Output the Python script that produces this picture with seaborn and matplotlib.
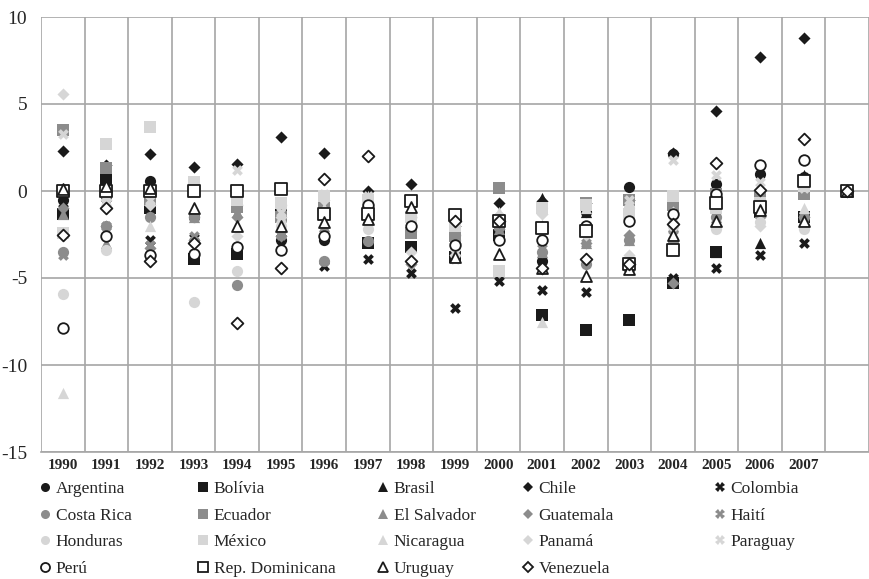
import matplotlib
matplotlib.use("Agg")
import matplotlib.pyplot as plt
from matplotlib.lines import Line2D
import seaborn as sns
import pandas as pd
import numpy as np

years = list(range(1990, 2009))
tick_labels = [str(y) for y in range(1990, 2008)] + [""]

argentina   = [-0.5, -0.3, 0.6, -1.5, -0.8, -2.8, -2.8, -1.0, -1.5, -2.5, -2.0, -4.0, -1.2, 0.25, 2.1, 0.4, 1.0, 0.8, 0]
bolivia     = [-1.3, 0.7, -1.0, -3.9, -3.6, -1.3, -0.9, -3.0, -3.2, -3.8, -2.5, -7.1, -8.0, -7.4, -5.3, -3.5, -1.2, -1.5, 0]
brasil      = [-1.0, 1.5, -0.5, 0.6, -0.8, -2.0, -1.8, 0.0, -1.2, -3.8, -1.4, -0.4, -1.2, -0.5, -0.8, -3.5, -3.0, 0.9, 0]
chile       = [2.3, 1.5, 2.1, 1.4, 1.55, 3.1, 2.2, 0.0, 0.4, -2.0, -0.7, -0.6, -0.7, -0.5, 2.2, 4.6, 7.7, 8.8, 0]
colombia    = [-0.7, -0.4, -2.8, -2.7, -0.9, -2.7, -4.3, -3.9, -4.7, -6.7, -5.2, -5.7, -5.8, -4.4, -5.0, -4.4, -3.7, -3.0, 0]
costa_rica  = [-3.5, -2.0, -1.5, -1.5, -5.4, -0.8, -4.0, -2.9, -2.3, -2.8, -2.0, -3.5, -4.2, -2.8, -2.9, -1.5, -0.5, -1.5, 0]
ecuador     = [3.5, 1.3, -0.5, 0.3, -0.9, -1.5, -1.0, -1.2, -2.4, -2.6, 0.2, -1.0, -0.7, -0.5, -0.8, -0.2, -0.4, -0.15, 0]
el_salvador = [-1.3, -3.0, -3.5, -1.5, -1.2, -2.3, -2.0, -1.5, -2.0, -3.0, -2.2, -3.5, -3.0, -2.8, -2.0, -1.5, -1.0, -1.6, 0]
guatemala   = [-1.0, -2.0, -3.3, -2.8, -1.5, -2.6, -1.5, -1.4, -4.2, -3.0, -2.2, -2.0, -3.0, -2.5, -5.3, -2.0, -1.5, -1.5, 0]
haiti       = [-3.7, -2.0, -3.1, -2.6, -1.0, -2.5, -0.5, -1.0, -2.0, -2.2, -2.0, -3.0, -3.0, -0.5, -2.5, -1.0, -0.3, -1.4, 0]
honduras    = [-5.9, -3.4, -3.7, -6.4, -4.6, -2.0, -2.6, -2.2, -1.5, -3.3, -1.5, -1.0, -2.0, -1.0, -2.0, -2.2, -1.8, -2.2, 0]
mexico      = [-2.4, 2.7, 3.7, 0.5, -0.5, -0.7, -0.3, -0.5, -1.5, -2.0, -4.6, -1.0, -0.8, -1.3, -0.3, -1.0, -0.7, 0.3, 0]
nicaragua   = [-11.6, -0.5, -2.0, -1.0, -2.0, -1.5, -1.0, -0.3, -1.6, -1.7, -1.2, -7.5, -1.0, -1.0, -1.5, -1.8, -0.5, -1.0, 0]
panama      = [5.6, -0.5, -0.8, 0.2, -2.6, -1.5, -0.5, -0.8, -3.5, -3.7, -1.5, -1.3, -2.5, -3.7, -1.2, -2.0, -2.0, -2.0, 0]
paraguay    = [3.3, -0.2, -0.5, 0.6, 1.2, -1.2, -0.2, -0.3, -1.8, -3.9, -1.5, -1.0, -2.2, -0.5, 1.8, 0.9, 0.5, 0.2, 0]
peru        = [-7.9, -2.6, -3.7, -3.6, -3.2, -3.4, -2.6, -0.8, -2.0, -3.1, -2.8, -2.8, -2.0, -1.7, -1.3, -0.2, 1.5, 1.8, 0]
rep_dom     = [0.0, 0.0, 0.0, 0.0, 0.0, 0.1, -1.3, -1.3, -0.6, -1.4, -1.7, -2.1, -2.3, -4.2, -3.4, -0.7, -0.9, 0.6, 0]
uruguay     = [0.1, 0.3, 0.2, -1.0, -2.0, -2.0, -1.8, -1.6, -0.9, -3.8, -3.6, -4.4, -4.9, -4.5, -2.5, -1.7, -1.1, -1.7, 0]
venezuela   = [-2.5, -1.0, -4.0, -3.0, -7.6, -4.4, 0.7, 2.0, -4.0, -1.7, -1.7, -4.4, -3.9, -4.2, -1.9, 1.6, 0.05, 3.0, 0]

countries = ["Argentina", "Bolívia", "Brasil", "Chile", "Colombia",
             "Costa Rica", "Ecuador", "El Salvador", "Guatemala", "Haití",
             "Honduras", "México", "Nicaragua", "Panamá", "Paraguay",
             "Perú", "Rep. Dominicana", "Uruguay", "Venezuela"]
series = [argentina, bolivia, brasil, chile, colombia,
          costa_rica, ecuador, el_salvador, guatemala, haiti,
          honduras, mexico, nicaragua, panama, paraguay,
          peru, rep_dom, uruguay, venezuela]

BLACK = "#1a1a1a"
GRAY = "#8c8c8c"
LIGHT = "#d6d6d6"
shape_cycle = ["o", "s", "^", "D", "X"]
color_rows = [BLACK, GRAY, LIGHT]
sizes = {"o": 65, "s": 70, "^": 65, "D": 38, "X": 60}

styles = []
for i, c in enumerate(countries):
    if i < 15:
        m = shape_cycle[i % 5]
        col = color_rows[i // 5]
        styles.append(dict(marker=m, facecolor=col, edgecolor=col, lw=0, s=sizes[m]))
    else:
        m = ["o", "s", "^", "D"][i - 15]
        styles.append(dict(marker=m, facecolor="white", edgecolor=BLACK, lw=1.3,
                           s={"o": 58, "s": 68, "^": 62, "D": 36}[m]))

sns.set_style("white")
plt.rcParams["font.family"] = ["Liberation Serif", "DejaVu Serif"]
plt.rcParams["axes.unicode_minus"] = False

fig = plt.figure(figsize=(8.69, 5.79), dpi=100)
ax = fig.add_axes([41 / 869, (579 - 452) / 579, 828 / 869, 435 / 579])

for name, vals, st in zip(countries, series, styles):
    df = pd.DataFrame({"year": years, "value": vals})
    sns.scatterplot(data=df, x="year", y="value", ax=ax, marker=st["marker"],
                    s=st["s"], color=st["facecolor"], edgecolor=st["edgecolor"],
                    linewidth=st["lw"], zorder=3, legend=False)

ax.set_xlim(1989.5, 2008.5)
ax.set_ylim(-15, 10)
ax.set_xticks(years)
ax.set_xticklabels(tick_labels, fontsize=11, fontweight="bold")
ax.set_xticks(np.arange(1989.5, 2009, 1), minor=True)
ax.set_yticks([10, 5, 0, -5, -10, -15])
ax.set_yticklabels(["10", "5", "0", "-5", "-10", "-15"], fontsize=14)
ax.tick_params(axis="both", which="both", length=0)
ax.tick_params(axis="x", pad=5)
ax.tick_params(axis="y", pad=10)
ax.grid(True, axis="x", which="minor", color="#a6a6a6", lw=1.2)
ax.grid(True, axis="y", which="major", color="#a6a6a6", lw=1.2)
ax.grid(False, axis="x", which="major")
ax.set_axisbelow(True)
for sp in ["top", "right", "left"]:
    ax.spines[sp].set_visible(False)
ax.spines["bottom"].set_color("#a6a6a6")
ax.spines["bottom"].set_linewidth(1.2)
ax.set_xlabel("")
ax.set_ylabel("")

# legend: 5 manual columns
col_x = [40, 198, 378, 523, 715]
for ci in range(5):
    idxs = [ci + 5 * r for r in range(4) if ci + 5 * r < len(countries)]
    handles = []
    labels = []
    for i in idxs:
        st = styles[i]
        ms = {"o": 6.5, "s": 7.5, "^": 6.5, "D": 5, "X": 6.5}[st["marker"]]
        handles.append(Line2D([0], [0], linestyle="none", marker=st["marker"],
                              markersize=ms, markerfacecolor=st["facecolor"],
                              markeredgecolor=st["edgecolor"],
                              markeredgewidth=st["lw"] if st["lw"] else 0))
        labels.append(countries[i])
    fig.legend(handles, labels, loc="upper left",
               bbox_to_anchor=(col_x[ci] / 869, 1 - 481 / 579),
               frameon=False, fontsize=12.5, handlelength=0.6, handletextpad=0.3,
               labelspacing=0.6, borderaxespad=0, borderpad=0)

fig.savefig("out.png", dpi=100)
